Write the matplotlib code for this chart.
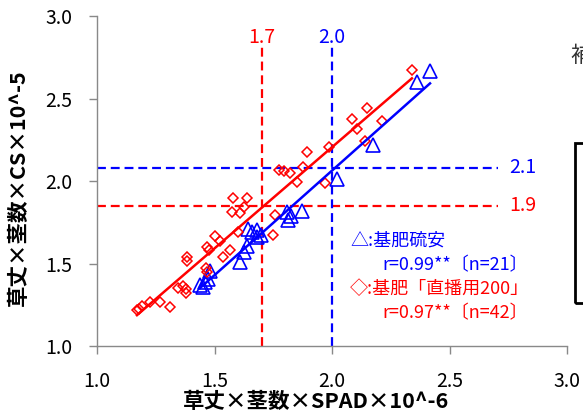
import numpy as np
import matplotlib
matplotlib.use("Agg")
import matplotlib.pyplot as plt
from matplotlib.patches import Rectangle

plt.rcParams['font.family'] = ['Noto Sans CJK JP', 'DejaVu Sans']

# 基肥硫安 (n=21)
x_ryuan = [1.438, 1.460, 1.481, 1.609, 1.638, 1.643, 1.681, 1.681, 1.809, 1.813,
           1.872, 2.021, 2.174, 2.362, 2.417, 1.451, 1.660, 1.698, 1.826, 1.626, 1.472]
y_ryuan = [1.370, 1.388, 1.455, 1.509, 1.606, 1.709, 1.703, 1.661, 1.812, 1.764,
           1.818, 2.012, 2.218, 2.600, 2.667, 1.358, 1.691, 1.673, 1.788, 1.570, 1.406]

# 基肥「直播用200」 (n=42)
x_chokuha = [1.170, 1.191, 1.226, 1.268, 1.311, 1.345, 1.366, 1.379, 1.383, 1.383,
             1.468, 1.468, 1.464, 1.502, 1.523, 1.536, 1.566, 1.600, 1.574, 1.609,
             1.579, 1.638, 1.626, 1.749, 1.757, 1.774, 1.796, 1.821, 1.851, 1.877,
             1.894, 1.970, 1.987, 2.085, 2.106, 2.140, 2.149, 2.213, 2.340, 1.179,
             1.477, 1.379]
y_chokuha = [1.218, 1.242, 1.267, 1.267, 1.236, 1.352, 1.364, 1.321, 1.539, 1.515,
             1.600, 1.448, 1.473, 1.667, 1.636, 1.539, 1.582, 1.691, 1.812, 1.806,
             1.897, 1.897, 1.842, 1.673, 1.794, 2.067, 2.061, 2.048, 1.994, 2.085,
             2.176, 1.988, 2.206, 2.376, 2.315, 2.242, 2.442, 2.364, 2.673, 1.224,
             1.582, 1.345]

# threshold guide lines
v_lines = [1.7, 2.0]
h_lines = [1.85, 2.08]
guide_colors = ['red', 'blue']

x_ticks = [1.0, 1.5, 2.0, 2.5, 3.0]
y_ticks = [1.0, 1.5, 2.0, 2.5, 3.0]

legend_lines = [
    ("△:基肥硫安", "blue"),
    ("r=0.99**〔n=21〕", "blue"),
    ("◇:基肥「直播用200」", "red"),
    ("r=0.97**〔n=42〕", "red"),
]

fig = plt.figure(figsize=(5.83, 4.19), dpi=100)
ax = fig.add_axes([0.1664, 0.1742, 0.8062, 0.7876])
ax.set_xlim(1.0, 3.0)
ax.set_ylim(1.0, 3.0)

# dashed guides
v_top = 2.81
h_right = 2.706
dash = (4, 2.2)
for xv, yh, c in zip(v_lines, h_lines, guide_colors):
    ax.plot([xv, xv], [1.0, v_top], color=c, lw=1.6, dashes=dash, zorder=1)
    ax.plot([1.0, h_right], [yh, yh], color=c, lw=1.6, dashes=dash, zorder=1)
    ax.text(xv, v_top + 0.025, f"{xv:.1f}", color=c, ha='center', va='baseline', fontsize=14)
    ax.text(h_right + 0.05, yh, f"{yh:.1f}", color=c, ha='left', va='center', fontsize=14)

# data points
ax.plot(x_ryuan, y_ryuan, linestyle='none', marker='^', ms=9.5, mfc='none',
        mec='blue', mew=1.2, zorder=3)
ax.plot(x_chokuha, y_chokuha, linestyle='none', marker='D', ms=5.6, mfc='none',
        mec='red', mew=1.1, zorder=3)

# linear trend lines
for xs, ys, c in [(x_ryuan, y_ryuan, 'blue'), (x_chokuha, y_chokuha, 'red')]:
    xs = np.asarray(xs); ys = np.asarray(ys)
    k, b = np.polyfit(xs, ys, 1)
    xx = np.array([xs.min(), xs.max()])
    ax.plot(xx, k * xx + b, color=c, lw=1.8, zorder=4)

# annotation block
ly = [1.642, 1.491, 1.345, 1.200]
lx = [2.077, 2.213, 2.077, 2.213]
for (txt, c), xx, yy in zip(legend_lines, lx, ly):
    ax.text(xx, yy, txt, color=c, ha='left', va='center', fontsize=13)

for s in ['top', 'right']:
    ax.spines[s].set_visible(False)
for s in ['left', 'bottom']:
    ax.spines[s].set_color('#898989')
    ax.spines[s].set_linewidth(1.0)

ax.set_xticks(x_ticks)
ax.set_yticks(y_ticks)
ax.set_xticklabels([f"{v:.1f}" for v in x_ticks])
ax.set_yticklabels([f"{v:.1f}" for v in y_ticks])
ax.tick_params(direction='out', length=6, width=1, color='#898989',
               labelsize=14, labelcolor='black')
ax.tick_params(axis='x', pad=12)
ax.tick_params(axis='y', pad=12)

ax.set_xlabel("草丈×茎数×SPAD×10^-6", fontsize=15.5, fontweight='bold')
ax.xaxis.set_label_coords(0.466, -0.137)
ax.set_ylabel("草丈×茎数×CS×10^-5", fontsize=15.5, fontweight='bold')
ax.yaxis.set_label_coords(-0.145, 0.48)

# neighbouring panel fragments at the right edge
fig.text(570 / 583, 1 - 55 / 419, "補", fontsize=16, color='#333333',
         ha='left', va='center')
fig.add_artist(Rectangle((575 / 583, 1 - 303 / 419), 0.1, (303 - 143) / 419,
                         transform=fig.transFigure, fill=False, ec='black',
                         lw=2, clip_on=False))

fig.savefig("out.png", dpi=100)
